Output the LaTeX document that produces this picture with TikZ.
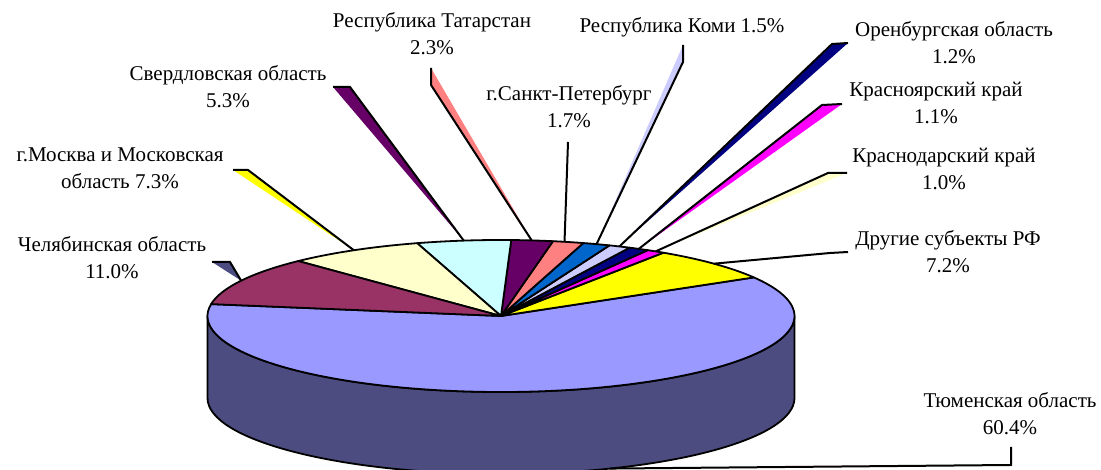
\documentclass[tikz,border=0pt]{standalone}
\usepackage{fontspec}
\setmainfont{Liberation Serif}
\definecolor{cTyu}{HTML}{9999FF}
\definecolor{cTyuSide}{RGB}{76,76,128}
\definecolor{cChe}{HTML}{993366}
\definecolor{cMos}{HTML}{FFFFCC}
\definecolor{cSve}{HTML}{CCFFFF}
\definecolor{cTat}{HTML}{660066}
\definecolor{cSpb}{HTML}{FF8080}
\definecolor{cKomi}{HTML}{0066CC}
\definecolor{cOre}{HTML}{CCCCFF}
\definecolor{cKry}{HTML}{000080}
\definecolor{cKrd}{HTML}{FF00FF}
\definecolor{cOth}{HTML}{FFFF00}
\newcommand\pieslice[3]{\path[slice,fill=#3] (C) -- ++(#1:293.5 and 76) arc[start angle=#1,end angle=#2,x radius=293.5,y radius=76] -- cycle;}
\newcommand\leaderline[4]{\fill[#4] (#1) -- (#2) -- (#3) -- cycle; \draw[leader] (#1) -- (#2) -- (#3);}
\newcommand\twolines[2]{\begin{tabular}[t]{@{}c@{}}#1\\#2\end{tabular}}
\begin{document}
\begin{tikzpicture}[x=1pt,y=1pt,
  slice/.style={draw=black,line width=1.8pt,line join=round},
  lbl/.style={inner sep=0pt,anchor=base,font=\fontsize{21}{27}\selectfont},
  leader/.style={draw=black,line width=2pt,line join=miter},
]
\useasboundingbox (0,0) rectangle (1101,470);
\clip (0,0) rectangle (1101,470);
\fill[white] (0,0) rectangle (1101,470);
\coordinate (C) at (501,154);
% side of the pie
\path[slice,fill=cTyuSide] (C) ++(180:293.5 and 76) arc[start angle=180,end angle=360,x radius=293.5,y radius=76] -- ++(0,-82) arc[start angle=360,end angle=180,x radius=293.5,y radius=76] -- cycle;
% top slices
\pieslice{171}{390.5}{cTyu}
\pieslice{30.5}{56.4}{cOth}
\pieslice{56.4}{60.0}{cKrd}
\pieslice{60.0}{64.0}{cKry}
\pieslice{64.0}{68.3}{cOre}
\pieslice{68.3}{73.7}{cKomi}
\pieslice{73.7}{79.8}{cSpb}
\pieslice{79.8}{88.0}{cTat}
\pieslice{88.0}{106.6}{cSve}
\pieslice{106.6}{133.7}{cMos}
\pieslice{133.7}{171}{cChe}
% pie edge points
\path (C) ++(152.3:293.5 and 76) coordinate (eChe);
\path (C) ++(120.1:293.5 and 76) coordinate (eMos);
\path (C) ++(97.3:293.5 and 76) coordinate (eSve);
\path (C) ++(84:293.5 and 76) coordinate (eTat);
\path (C) ++(77.5:293.5 and 76) coordinate (eSpb);
\path (C) ++(71:293.5 and 76) coordinate (eKomi);
\path (C) ++(66.2:293.5 and 76) coordinate (eOre);
\path (C) ++(62:293.5 and 76) coordinate (eKry);
\path (C) ++(58.2:293.5 and 76) coordinate (eKrd);
\path (C) ++(43.5:293.5 and 76) coordinate (eOth);
\path (C) ++(0,-82) ++(291.8:293.5 and 76) coordinate (eTyu);
% labels
\node[lbl] (lTat) at (432,442) {\twolines{Республика Татарстан}{2.3\%}};
\node[lbl] (lKomi) at (682,437) {Республика Коми 1.5\%};
\node[lbl] (lSpb) at (569,369) {\twolines{г.Санкт-Петербург}{1.7\%}};
\node[lbl] (lOre) at (954,433) {\twolines{Оренбургская область}{1.2\%}};
\node[lbl] (lKry) at (936,373) {\twolines{Красноярский край}{1.1\%}};
\node[lbl] (lKrd) at (944,307) {\twolines{Краснодарский край}{1.0\%}};
\node[lbl] (lOth) at (948,224) {\twolines{Другие субъекты РФ}{7.2\%}};
\node[lbl] (lTyu) at (1010,62) {\twolines{Тюменская область}{60.4\%}};
\node[lbl] (lChe) at (112,218) {\twolines{Челябинская область}{11.0\%}};
\node[lbl] (lMos) at (120,308) {\twolines{г.Москва и Московская}{область 7.3\%}};
\node[lbl] (lSve) at (228,389) {\twolines{Свердловская область}{5.3\%}};
% leader start and elbow points
\coordinate (aChe) at (212,208); \coordinate (bChe) at (230,208);
\coordinate (aMos) at (233,300); \coordinate (bMos) at (248,300);
\coordinate (aSve) at (333,383); \coordinate (bSve) at (350,383);
\coordinate (aTat) at (431,402); \coordinate (bTat) at (431,385);
\coordinate (aSpb) at (568,328);
\coordinate (aKomi) at (683,425); \coordinate (bKomi) at (683,408);
\coordinate (aOre) at (848,427); \coordinate (bOre) at (832,426);
\coordinate (aKry) at (842,366); \coordinate (bKry) at (822,365);
\coordinate (aKrd) at (847,297); \coordinate (bKrd) at (828,297);
\coordinate (aOth) at (848,218); \coordinate (bOth) at (830,217);
\coordinate (aTyu) at (1011,23); \coordinate (bTyu) at (1011,5);
% leaders
\leaderline{aChe}{bChe}{eChe}{cTyuSide}
\leaderline{aMos}{bMos}{eMos}{cOth}
\leaderline{aSve}{bSve}{eSve}{cTat}
\leaderline{aTat}{bTat}{eTat}{cSpb}
\draw[leader] (aSpb) -- (eSpb);
\leaderline{aKomi}{bKomi}{eKomi}{cOre}
\leaderline{aOre}{bOre}{eOre}{cKry}
\leaderline{aKry}{bKry}{eKry}{cKrd}
\leaderline{aKrd}{bKrd}{eKrd}{cMos}
\draw[leader] (aOth) -- (bOth) -- (eOth);
\draw[leader] (aTyu) -- (bTyu) -- (eTyu);
\end{tikzpicture}
\end{document}
